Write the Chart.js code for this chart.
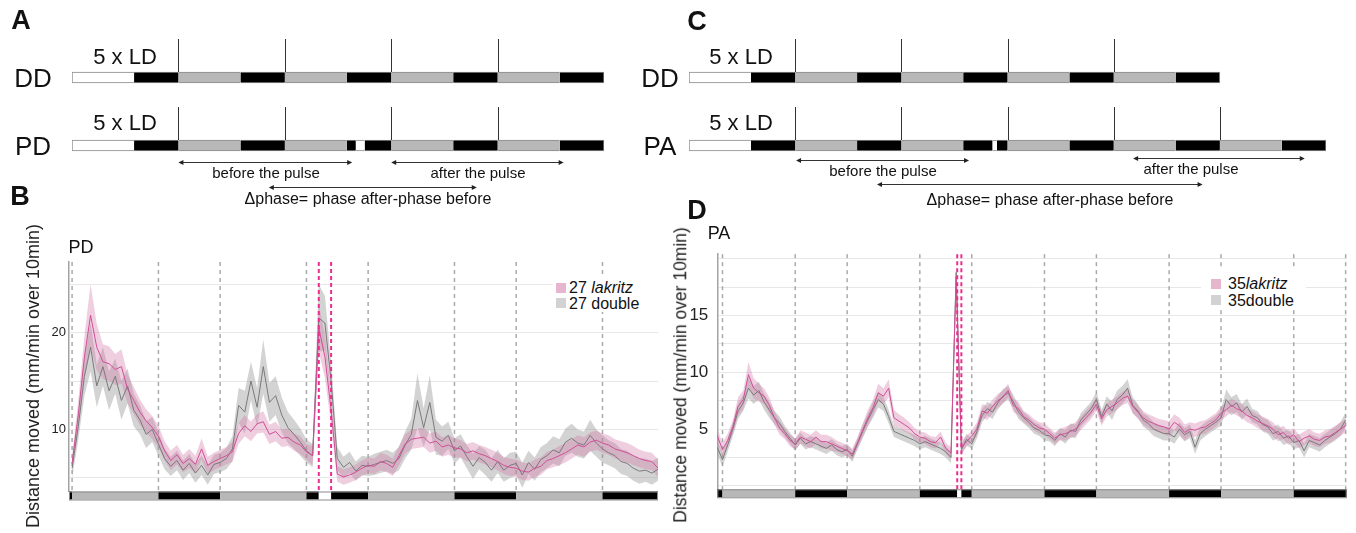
<!DOCTYPE html>
<html>
<head>
<meta charset="utf-8">
<script src="https://cdn.jsdelivr.net/npm/chart.js@4.4.1/dist/chart.umd.min.js"></script>
<style>
body { margin: 0; background: #fff; width: 1356px; height: 533px; position: relative; overflow: hidden;
       font-family: "Liberation Sans", Arial, sans-serif; color: #111; }
canvas { position: absolute; }
.c { position: absolute; white-space: nowrap; line-height: 1; transform: translate(-50%, -50%); }
.letter { font-weight: bold; font-size: 27px; }
.row { font-size: 26px; }
.ld { font-size: 22px; }
.small { font-size: 15px; }
.delta { font-size: 16px; }
.ttl { font-size: 18px; }
.ytitle { font-size: 18px; transform: translate(-50%, -50%) rotate(-90deg); color: #222; }
.legend { position: absolute; background: #fff; font-size: 16px; line-height: 1; }
.legend div { position: absolute; white-space: nowrap; }
.legend .box { width: 10px; height: 10px; }
</style>
</head>
<body>
<canvas id="chartA" width="678" height="210" style="left:0;top:0"></canvas>
<canvas id="chartC" width="678" height="210" style="left:678px;top:0"></canvas>
<canvas id="chartB" width="670" height="262" style="left:0;top:250px"></canvas>
<canvas id="chartD" width="678" height="275" style="left:678px;top:235px"></canvas>

<div class="c letter" style="left:21px;top:20px">A</div>
<div class="c letter" style="left:697px;top:21px">C</div>
<div class="c letter" style="left:20px;top:196px">B</div>
<div class="c letter" style="left:697px;top:210px">D</div>

<div class="c row" style="left:33px;top:78px">DD</div>
<div class="c row" style="left:33px;top:146px">PD</div>
<div class="c ld" style="left:125px;top:57px">5 x LD</div>
<div class="c ld" style="left:125px;top:123px">5 x LD</div>
<div class="c small" style="left:266px;top:172px">before the pulse</div>
<div class="c small" style="left:478px;top:172px">after the pulse</div>
<div class="c delta" style="left:368px;top:199px">&Delta;phase= phase after-phase before</div>

<div class="c row" style="left:660px;top:78px">DD</div>
<div class="c row" style="left:660px;top:146px">PA</div>
<div class="c ld" style="left:741px;top:57px">5 x LD</div>
<div class="c ld" style="left:741px;top:123px">5 x LD</div>
<div class="c small" style="left:883px;top:170px">before the pulse</div>
<div class="c small" style="left:1191px;top:168px">after the pulse</div>
<div class="c delta" style="left:1050px;top:200px">&Delta;phase= phase after-phase before</div>

<div class="c ttl" style="left:81px;top:247px">PD</div>
<div class="c ttl" style="left:719px;top:233px">PA</div>
<div class="c ytitle" style="left:33px;top:376px">Distance moved (mm/min over 10min)</div>
<div class="c ytitle" style="left:681px;top:375px;font-size:17.5px">Distance moved (mm/min over 10min)</div>

<div class="legend" style="left:553px;top:276px;width:105px;height:36px">
  <div class="box" style="left:3px;top:7px;background:#e6b6ce"></div>
  <div style="left:16px;top:4px">27 <i>lakritz</i></div>
  <div class="box" style="left:3px;top:22px;background:#d2d2d2"></div>
  <div style="left:16px;top:20px">27 double</div>
</div>
<div class="legend" style="left:1201px;top:270px;width:105px;height:40px">
  <div class="box" style="left:10px;top:9px;background:#e6b6ce"></div>
  <div style="left:27px;top:6px">35<i>lakritz</i></div>
  <div class="box" style="left:10px;top:25px;background:#d2d2d2"></div>
  <div style="left:27px;top:23px">35double</div>
</div>

<script>
// ---- schematic light regimes (x in subjective hours, 14 day / 10 night) ----
const ddEdgesA = [0, 14, 24, 38, 48, 62, 72, 86, 96, 110, 120]
const ddShadesA = ['white', 'black', 'gray', 'black', 'gray', 'black', 'gray', 'black', 'gray', 'black']
const pdEdgesA = [0, 14, 24, 38, 48, 62, 64, 66, 72, 86, 96, 110, 120]
const pdShadesA = ['white', 'black', 'gray', 'black', 'gray', 'black', 'white', 'black', 'gray', 'black', 'gray', 'black']
const ddTicksA = [24, 48, 72, 96]
const pdTicksA = [24, 48, 72, 96]
const beforeSpanA = [24, 63.2]
const afterSpanA = [72, 110.9]
const deltaSpanA = [44.4, 91.3]

const ddEdgesC = [0, 14, 24, 38, 48, 62, 72, 86, 96, 110, 120]
const ddShadesC = ['white', 'black', 'gray', 'black', 'gray', 'black', 'gray', 'black', 'gray', 'black']
const paEdgesC = [0, 14, 24, 38, 48, 62, 68.6, 69.6, 72, 86, 96, 110, 120, 134, 144]
const paShadesC = ['white', 'black', 'gray', 'black', 'gray', 'black', 'white', 'black', 'gray', 'black', 'gray', 'black', 'gray', 'black']
const ddTicksC = [24, 48, 72, 96]
const paTicksC = [24, 48, 72, 96, 120]
const beforeSpanC = [24.2, 63.3]
const afterSpanC = [100.4, 139.2]
const deltaSpanC = [42.5, 116.1]

// ---- B: PD activity, one value per hour starting at 0 ----
const startB = 0
const lakritzMeanB = [
  6.5, 11.5, 17.5, 21.8, 18.5, 17.0, 16.8, 16.2, 16.5, 14.2,
  13.0, 11.8, 10.9, 10.2, 9.3, 7.8, 6.8, 7.4, 6.5, 7.0,
  6.4, 8.0, 6.3, 6.7, 7.0, 7.3, 7.7, 9.6, 10.4, 9.8,
  10.6, 10.8, 9.5, 9.8, 9.1, 9.2, 8.7, 8.4, 7.7, 7.3,
  20.5, 17.5, 12.0, 5.4, 5.1, 5.3, 5.6, 6.0, 6.3, 6.2,
  6.7, 6.5, 6.1, 7.3, 8.5, 9.0, 9.1, 9.2, 8.6, 8.8,
  8.2, 8.4, 8.1, 8.0, 7.6, 7.8, 7.5, 7.3, 7.0, 6.7,
  6.3, 6.1, 6.0, 5.7, 5.6, 6.0, 6.2, 6.8, 7.0, 7.3,
  7.6, 8.0, 8.4, 8.2, 8.7, 8.9, 8.6, 8.4, 8.0, 7.8,
  7.6, 7.3, 7.0, 6.8, 6.7, 6.0]
const lakritzSemB = [
  0.8, 1.5, 2.2, 3.2, 2.4, 1.8, 1.8, 1.6, 1.8, 1.5,
  1.4, 1.3, 1.2, 1.2, 1.1, 1.0, 1.0, 1.0, 0.9, 1.0,
  0.9, 1.1, 0.9, 0.9, 0.9, 0.9, 1.0, 1.1, 1.1, 1.0,
  1.0, 1.1, 1.0, 1.0, 0.9, 0.9, 0.9, 0.9, 0.8, 1.0,
  2.5, 2.2, 1.5, 0.8, 0.8, 0.8, 0.8, 0.8, 0.8, 0.8,
  0.9, 0.9, 0.9, 1.0, 1.0, 1.0, 1.0, 1.0, 1.0, 1.0,
  1.0, 1.0, 1.0, 0.9, 0.9, 0.9, 0.9, 0.9, 0.9, 0.9,
  0.9, 0.9, 0.9, 0.9, 0.9, 0.9, 0.9, 0.9, 0.9, 1.0,
  1.0, 1.0, 1.0, 1.0, 1.0, 1.0, 1.0, 1.0, 1.0, 1.0,
  1.0, 1.0, 0.9, 0.9, 0.9, 0.9]
const doubleMeanB = [
  6.0, 10.3, 15.5, 18.5, 14.5, 16.5, 14.0, 15.5, 13.0, 14.5,
  12.0, 11.0, 9.5, 10.0, 8.5, 7.0, 6.2, 6.8, 5.8, 6.5,
  5.5, 6.3, 5.3, 6.4, 6.6, 7.0, 8.0, 12.5, 11.8, 15.0,
  12.3, 16.5, 12.8, 13.5, 11.5, 10.2, 9.5, 8.7, 7.8, 7.3,
  21.5, 21.0, 15.0, 7.0, 6.1, 6.6, 5.7, 6.3, 6.2, 6.4,
  6.6, 6.8, 6.5, 7.0, 8.4, 9.5, 13.0, 10.2, 12.8, 9.2,
  8.8, 9.4, 7.8, 8.3, 7.2, 6.2, 7.1, 6.6, 5.8, 6.7,
  5.8, 6.3, 6.5, 5.3, 6.6, 5.9, 6.9, 7.3, 7.9, 7.6,
  8.7, 9.1, 8.6, 8.4, 9.4, 8.6, 8.0, 7.6, 7.3, 6.7,
  6.5, 6.0, 5.7, 5.8, 5.5, 5.9]
const doubleSemB = [
  1.0, 1.4, 2.0, 2.5, 2.2, 2.0, 2.0, 1.8, 2.0, 1.8,
  1.7, 1.5, 1.4, 1.3, 1.2, 1.1, 1.0, 1.0, 1.0, 1.0,
  1.0, 1.0, 1.0, 1.0, 1.0, 1.1, 1.3, 1.8, 2.2, 2.0,
  2.0, 2.8, 2.0, 2.0, 1.8, 1.6, 1.5, 1.4, 1.2, 1.2,
  3.5, 2.8, 2.0, 1.2, 1.1, 1.1, 1.0, 1.0, 1.0, 1.1,
  1.1, 1.1, 1.1, 1.2, 1.4, 1.6, 2.8, 2.0, 2.8, 1.8,
  1.5, 1.4, 1.3, 1.2, 1.2, 1.3, 1.2, 1.3, 1.2, 1.2,
  1.2, 1.3, 1.2, 1.3, 1.2, 1.2, 1.3, 1.3, 1.4, 1.4,
  1.4, 1.5, 1.4, 1.4, 1.6, 1.4, 1.4, 1.3, 1.3, 1.3,
  1.3, 1.3, 1.3, 1.2, 1.2, 1.2]
const ldEdgesB = [-0.5, 0, 14, 24, 38, 40, 42, 48, 62, 72, 86, 95]
const ldShadesB = ['black', 'gray', 'black', 'gray', 'black', 'white', 'black', 'gray', 'black', 'gray', 'black']
const dayLinesB = [0, 14, 24, 38, 48, 62, 72, 86]
const pulseLinesB = [40, 42]
const yTicksB = [10, 20]

// ---- D: PA activity, one value per hour starting at -1 ----
const startD = -1
const lakritzMeanD = [
  4.4, 3.2, 4.0, 5.2, 7.0, 7.6, 9.8, 8.6, 8.2, 7.9,
  7.1, 6.0, 5.1, 4.6, 4.0, 3.7, 4.3, 4.1, 3.9, 4.3,
  3.9, 3.9, 3.7, 3.5, 3.3, 3.1, 2.8, 3.8, 4.9, 6.0,
  6.9, 8.2, 7.9, 8.6, 6.0, 5.7, 5.4, 5.1, 4.6, 4.3,
  4.2, 3.9, 3.8, 4.3, 3.3, 2.9, 18.4, 3.4, 3.9, 4.4,
  5.0, 6.6, 6.4, 7.0, 7.5, 7.8, 8.4, 7.1, 6.8, 6.1,
  5.8, 5.4, 5.1, 5.0, 4.6, 4.2, 4.5, 4.6, 4.8, 5.0,
  5.5, 6.0, 6.5, 7.2, 5.9, 6.7, 7.0, 7.3, 7.7, 7.9,
  7.0, 6.5, 6.0, 5.7, 5.5, 5.3, 5.2, 5.0, 5.6, 5.3,
  4.7, 5.0, 4.9, 5.1, 5.2, 5.5, 5.8, 6.4, 6.7, 7.1,
  6.8, 6.6, 6.2, 6.0, 5.7, 5.5, 5.3, 5.0, 4.5, 4.7,
  4.2, 4.5, 3.9, 4.2, 4.4, 4.1, 4.0, 4.3, 4.4, 4.7,
  5.0, 5.3]
const lakritzSemD = [
  0.6, 0.6, 0.6, 0.6, 0.8, 0.8, 1.1, 0.9, 0.8, 0.7,
  0.7, 0.6, 0.6, 0.5, 0.5, 0.5, 0.6, 0.6, 0.6, 0.6,
  0.6, 0.6, 0.6, 0.5, 0.5, 0.5, 0.5, 0.5, 0.6, 0.7,
  0.7, 0.8, 0.7, 0.8, 0.7, 0.6, 0.6, 0.5, 0.5, 0.5,
  0.5, 0.5, 0.5, 0.5, 0.5, 0.5, 0.8, 0.5, 0.5, 0.5,
  0.6, 0.6, 0.6, 0.6, 0.6, 0.6, 0.6, 0.6, 0.6, 0.5,
  0.5, 0.5, 0.5, 0.5, 0.5, 0.5, 0.5, 0.6, 0.6, 0.6,
  0.6, 0.6, 0.6, 0.6, 0.6, 0.6, 0.6, 0.6, 0.6, 0.6,
  0.6, 0.6, 0.6, 0.6, 0.6, 0.6, 0.6, 0.7, 0.7, 0.7,
  0.7, 0.6, 0.6, 0.6, 0.6, 0.6, 0.6, 0.6, 0.6, 0.6,
  0.6, 0.6, 0.6, 0.6, 0.6, 0.6, 0.6, 0.6, 0.6, 0.6,
  0.6, 0.6, 0.6, 0.6, 0.6, 0.6, 0.6, 0.6, 0.6, 0.6,
  0.6, 0.6]
const doubleMeanD = [
  3.4, 2.3, 3.6, 5.0, 6.6, 7.3, 8.6, 8.0, 8.4, 7.4,
  6.7, 6.0, 5.5, 4.8, 4.2, 3.6, 4.2, 3.7, 3.9, 3.7,
  3.5, 3.3, 3.6, 3.2, 3.0, 3.2, 2.6, 3.7, 4.8, 5.8,
  6.7, 7.6, 7.2, 6.1, 4.8, 4.6, 4.4, 4.2, 4.0, 3.7,
  3.9, 3.7, 3.5, 3.3, 3.0, 2.5, 18.8, 3.2, 4.1, 3.7,
  4.8, 6.2, 6.8, 6.5, 7.3, 7.9, 8.2, 7.4, 6.5, 6.0,
  5.6, 5.1, 4.9, 4.5, 4.4, 4.0, 4.6, 4.3, 4.9, 4.8,
  5.8, 6.3, 6.8, 7.6, 6.1, 7.2, 6.6, 7.6, 8.0, 8.6,
  7.1, 6.6, 5.8, 5.5, 5.0, 4.8, 4.6, 4.6, 4.3, 5.0,
  4.5, 4.8, 3.4, 4.6, 5.0, 5.3, 5.6, 6.0, 7.6, 7.0,
  7.3, 6.5, 7.0, 6.2, 6.0, 5.4, 5.2, 4.6, 4.8, 4.2,
  4.4, 3.8, 4.0, 3.1, 4.0, 3.8, 3.6, 4.0, 4.3, 4.6,
  5.0, 5.8]
const doubleSemD = [
  0.6, 0.6, 0.6, 0.6, 0.7, 0.7, 0.9, 0.8, 0.8, 0.7,
  0.7, 0.6, 0.6, 0.5, 0.5, 0.5, 0.5, 0.5, 0.5, 0.5,
  0.5, 0.5, 0.5, 0.5, 0.5, 0.5, 0.5, 0.5, 0.6, 0.6,
  0.7, 0.7, 0.6, 0.6, 0.5, 0.5, 0.5, 0.5, 0.5, 0.5,
  0.5, 0.5, 0.5, 0.5, 0.5, 0.5, 0.8, 0.5, 0.5, 0.5,
  0.6, 0.6, 0.6, 0.6, 0.6, 0.6, 0.6, 0.6, 0.6, 0.5,
  0.5, 0.5, 0.5, 0.5, 0.5, 0.5, 0.5, 0.6, 0.6, 0.6,
  0.6, 0.6, 0.6, 0.7, 0.6, 0.7, 0.8, 0.8, 0.8, 0.8,
  0.7, 0.6, 0.6, 0.6, 0.6, 0.6, 0.6, 0.6, 0.6, 0.6,
  0.6, 0.6, 0.6, 0.6, 0.6, 0.6, 0.6, 0.7, 0.9, 0.8,
  0.8, 0.7, 0.7, 0.6, 0.6, 0.6, 0.6, 0.6, 0.6, 0.6,
  0.6, 0.6, 0.6, 0.6, 0.6, 0.6, 0.6, 0.6, 0.6, 0.6,
  0.6, 0.7]
const ldEdgesD = [-1, 0, 14, 24, 38, 45.2, 46, 48, 62, 72, 86, 96, 110, 120.2]
const ldShadesD = ['black', 'gray', 'black', 'gray', 'black', 'white', 'black', 'gray', 'black', 'gray', 'black', 'gray', 'black']
const dayLinesD = [0, 14, 24, 38, 48, 62, 72, 86, 96, 110, 120]
const pulseLinesD = [45.2, 46]
const yTicksD = [5, 10, 15]

Chart.defaults.font.family = '"Liberation Sans", Arial, sans-serif'

const SHADE = { white: '#ffffff', gray: '#b8b8b8', black: '#000000' }

// --- helpers ---
function drawArrow(ctx, x1, x2, y) {
    ctx.beginPath()
    ctx.moveTo(x1 + 4, y + 0.5)
    ctx.lineTo(x2 - 4, y + 0.5)
    ctx.stroke()
    ctx.beginPath()
    ctx.moveTo(x1, y + 0.5); ctx.lineTo(x1 + 5, y - 2); ctx.lineTo(x1 + 5, y + 3); ctx.closePath()
    ctx.moveTo(x2, y + 0.5); ctx.lineTo(x2 - 5, y - 2); ctx.lineTo(x2 - 5, y + 3); ctx.closePath()
    ctx.fill()
}

const schematicExtras = {
    id: 'schematicExtras',
    afterDatasetsDraw(chart, args, opts) {
        const { ctx } = chart
        const x = chart.scales.x
        const y = chart.scales.y
        ctx.save()
        ctx.strokeStyle = '#333'
        ctx.fillStyle = '#222'
        ctx.lineWidth = 1
        opts.marks.forEach((m, row) => {
            const top = y.getPixelForValue(row) - 5.5
            m.forEach(v => {
                const px = Math.round(x.getPixelForValue(v)) + 0.5
                ctx.beginPath()
                ctx.moveTo(px, top)
                ctx.lineTo(px, top - 33)
                ctx.stroke()
            })
        })
        opts.arrows.forEach(a => drawArrow(ctx, x.getPixelForValue(a.span[0]), x.getPixelForValue(a.span[1]), a.y))
        ctx.restore()
    }
}

function rowDatasets(name, edges, shades) {
    return shades.map((s, i) => ({
        data: [{ x: [edges[i], edges[i + 1]], y: name }],
        backgroundColor: SHADE[s],
        borderColor: '#8a8a8a',
        borderWidth: { top: 1, bottom: 1, left: i === 0 ? 1 : 0, right: i === shades.length - 1 ? 1 : 0 },
        borderSkipped: false,
        barThickness: 11,
        grouped: false
    }))
}

function schematic(canvasId, rows, xMax, padding, arrows) {
    return new Chart(document.getElementById(canvasId), {
        type: 'bar',
        data: {
            labels: rows.map(r => r.name),
            datasets: rows.flatMap(r => rowDatasets(r.name, r.edges, r.shades))
        },
        options: {
            indexAxis: 'y',
            responsive: false,
            animation: false,
            layout: { padding },
            plugins: {
                legend: { display: false },
                tooltip: { enabled: false },
                schematicExtras: { marks: rows.map(r => r.ticks), arrows }
            },
            scales: {
                x: { type: 'linear', min: 0, max: xMax, display: false },
                y: { type: 'category', display: false }
            }
        },
        plugins: [schematicExtras]
    })
}

schematic('chartA', [
    { name: 'DD', edges: ddEdgesA, shades: ddShadesA, ticks: ddTicksA },
    { name: 'PD', edges: pdEdgesA, shades: pdShadesA, ticks: pdTicksA }
], 120, { left: 72, right: 74, top: 43.5, bottom: 30.5 }, [
    { span: beforeSpanA, y: 162 },
    { span: afterSpanA, y: 162 },
    { span: deltaSpanA, y: 187 }
])

schematic('chartC', [
    { name: 'DD', edges: ddEdgesC, shades: ddShadesC, ticks: ddTicksC },
    { name: 'PA', edges: paEdgesC, shades: paShadesC, ticks: paTicksC }
], 144, { left: 11, right: 30, top: 43.5, bottom: 30.5 }, [
    { span: beforeSpanC, y: 160 },
    { span: afterSpanC, y: 158 },
    { span: deltaSpanC, y: 184 }
])

// --- activity plots ---
const activityExtras = {
    id: 'activityExtras',
    beforeDatasetsDraw(chart, args, opts) {
        const { ctx, chartArea } = chart
        const x = chart.scales.x
        ctx.save()
        ctx.strokeStyle = '#a9a9a9'
        ctx.lineWidth = 1.5
        ctx.setLineDash([4, 4])
        opts.dayLines.forEach(v => {
            const px = x.getPixelForValue(v)
            ctx.beginPath()
            ctx.moveTo(px, chartArea.top)
            ctx.lineTo(px, chartArea.bottom)
            ctx.stroke()
        })
        ctx.restore()
    },
    afterDatasetsDraw(chart, args, opts) {
        const { ctx, chartArea } = chart
        const x = chart.scales.x
        ctx.save()
        ctx.strokeStyle = '#ec2d8c'
        ctx.lineWidth = 2
        ctx.setLineDash([4, 3])
        opts.pulseLines.forEach(v => {
            const px = x.getPixelForValue(v)
            ctx.beginPath()
            ctx.moveTo(px, chartArea.top)
            ctx.lineTo(px, chartArea.bottom)
            ctx.stroke()
        })
        ctx.restore()
    },
    afterDraw(chart, args, opts) {
        const { ctx, chartArea } = chart
        const x = chart.scales.x
        const top = chartArea.bottom
        const h = 8
        ctx.save()
        opts.ldShades.forEach((s, i) => {
            const x1 = x.getPixelForValue(opts.ldEdges[i])
            const x2 = x.getPixelForValue(opts.ldEdges[i + 1])
            ctx.fillStyle = SHADE[s]
            ctx.fillRect(x1, top, x2 - x1, h)
        })
        const xa = x.getPixelForValue(opts.ldEdges[0])
        const xb = x.getPixelForValue(opts.ldEdges[opts.ldEdges.length - 1])
        ctx.strokeStyle = '#8c8c8c'
        ctx.lineWidth = 1
        ctx.strokeRect(xa + 0.5, top + 0.5, xb - xa - 1, h)
        ctx.restore()
    }
}

function activityChart(canvasId, o) {
    const pts = vals => vals.map((v, i) => ({ x: o.start + i, y: v }))
    const plus = (m, s) => m.map((v, i) => v + s[i])
    const minus = (m, s) => m.map((v, i) => v - s[i])
    const band = { borderWidth: 0, pointRadius: 0 }
    return new Chart(document.getElementById(canvasId), {
        type: 'line',
        data: {
            datasets: [
                { ...band, data: pts(plus(o.doubleMean, o.doubleSem)), fill: false, order: 3 },
                { ...band, data: pts(minus(o.doubleMean, o.doubleSem)), fill: '-1', backgroundColor: 'rgba(150,150,150,0.42)', order: 3 },
                { ...band, data: pts(plus(o.lakritzMean, o.lakritzSem)), fill: false, order: 2 },
                { ...band, data: pts(minus(o.lakritzMean, o.lakritzSem)), fill: '-1', backgroundColor: 'rgba(212,118,168,0.36)', order: 2 },
                { data: pts(o.doubleMean), borderColor: '#7a7a7a', borderWidth: 1, pointRadius: 0, fill: false, order: 1 },
                { data: pts(o.lakritzMean), borderColor: '#cf4f97', borderWidth: 1, pointRadius: 0, fill: false, order: 0 }
            ]
        },
        options: {
            responsive: false,
            animation: false,
            layout: { padding: o.padding },
            plugins: {
                legend: { display: false },
                tooltip: { enabled: false },
                activityExtras: { dayLines: o.dayLines, pulseLines: o.pulseLines, ldEdges: o.ldEdges, ldShades: o.ldShades }
            },
            scales: {
                x: { type: 'linear', min: o.xMin, max: o.xMax, display: false },
                y: {
                    min: o.yMin, max: o.yMax,
                    afterFit: s => { s.width = o.axisWidth },
                    ticks: {
                        stepSize: o.step, includeBounds: false, padding: o.tickPad, color: '#222',
                        font: { size: o.tickSize },
                        callback: v => o.yLabels.includes(v) ? String(v) : ''
                    },
                    grid: { color: '#e7e7e7', drawTicks: false },
                    border: { color: '#a3a3a3', width: 1.5 }
                }
            }
        },
        plugins: [activityExtras]
    })
}

activityChart('chartB', {
    start: startB, lakritzMean: lakritzMeanB, lakritzSem: lakritzSemB, doubleMean: doubleMeanB, doubleSem: doubleSemB,
    dayLines: dayLinesB, pulseLines: pulseLinesB, ldEdges: ldEdgesB, ldShades: ldShadesB, yLabels: yTicksB,
    xMin: -0.5, xMax: 95, yMin: 3.6, yMax: 27.3, step: 5,
    axisWidth: 69, tickPad: 3, tickSize: 13,
    padding: { left: 0, right: 12, top: 12, bottom: 20.5 }
})

activityChart('chartD', {
    start: startD, lakritzMean: lakritzMeanD, lakritzSem: lakritzSemD, doubleMean: doubleMeanD, doubleSem: doubleSemD,
    dayLines: dayLinesD, pulseLines: pulseLinesD, ldEdges: ldEdgesD, ldShades: ldShadesD, yLabels: yTicksD,
    xMin: -1, xMax: 120.2, yMin: -0.3, yMax: 20.4, step: 2.5,
    axisWidth: 39.3, tickPad: 9, tickSize: 17,
    padding: { left: 0, right: 9.3, top: 8, bottom: 20.7 }
})
</script>
</body>
</html>
